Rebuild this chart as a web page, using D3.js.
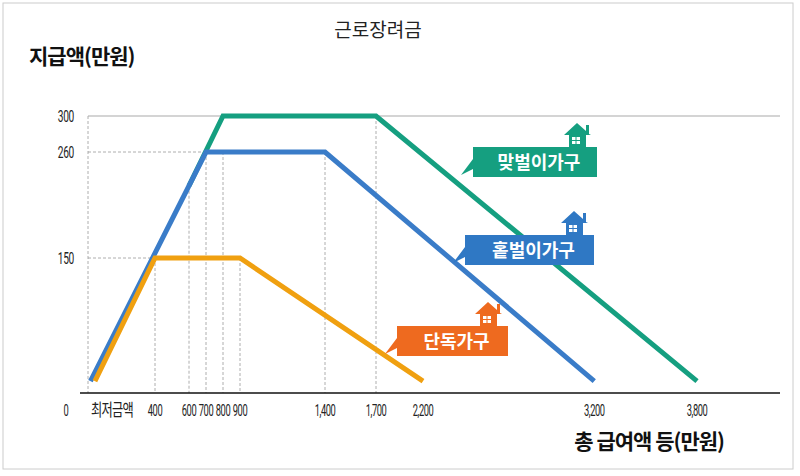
<!DOCTYPE html>
<html><head><meta charset="utf-8">
<script src="https://cdn.jsdelivr.net/npm/d3@7"></script>
<style>body{margin:0;background:#fff}text{font-family:"Noto Sans CJK KR",sans-serif}</style>
</head><body><div class="svg-spot"></div>
<script>
// tick values on x (the axis is not evenly spaced past 1,700)
var xTicks = [0, 400, 600, 700, 800, 900, 1400, 1700, 2200, 3200, 3800];
var xTickLabels = ["0", "400", "600", "700", "800", "900", "1,400", "1,700", "2,200", "3,200", "3,800"];
var yTicks = [150, 260, 300];

// series: [급여액, 지급액]; the first points sit at the 최저금액 position
var single = [[130, 20], [400, 150], [900, 150], [2200, 20]];
var oneEarner = [[110, 20], [700, 260], [1400, 260], [3200, 20]];
var twoEarner = [[600, 225], [800, 300], [1700, 300], [3800, 20]];

var svg = d3.select(".svg-spot").append("svg").attr("width", 800).attr("height", 476);
svg.append("rect").attr("x", 3).attr("y", 3).attr("width", 790).attr("height", 466)
   .attr("fill", "#fff").attr("stroke", "#ccc");

var x = d3.scaleLinear()
          .domain([0, 400, 1700, 2200, 3800])
          .range([66, 155, 376, 423, 697]);
var y = d3.scaleLinear().domain([0, 150, 260, 300]).range([400, 258, 152, 116]);
var axisY = 393;

// grid
var grid = svg.append("g").attr("stroke", "#999").attr("stroke-dasharray", "3,2").attr("stroke-width", 0.8);
grid.append("line").attr("x1", 88).attr("x2", 88).attr("y1", y(300)).attr("y2", axisY);
grid.append("line").attr("x1", 88).attr("x2", x(1400)).attr("y1", y(260)).attr("y2", y(260));
grid.append("line").attr("x1", 88).attr("x2", x(400)).attr("y1", y(150)).attr("y2", y(150));
[[400, 150], [600, 225], [700, 260], [800, 260], [900, 150], [1400, 260], [1700, 300]].forEach(function(d){
    grid.append("line").attr("x1", x(d[0])).attr("x2", x(d[0])).attr("y1", y(d[1])).attr("y2", axisY);
});
svg.append("line").attr("x1", 88).attr("x2", 780).attr("y1", y(300)).attr("y2", y(300))
   .attr("stroke", "#aaa").attr("stroke-width", 1.2);

// x axis
svg.append("line").attr("x1", 80).attr("x2", 780).attr("y1", axisY).attr("y2", axisY)
   .attr("stroke", "#111").attr("stroke-width", 1.5);
svg.selectAll(".xt").data(xTicks).enter().append("text")
   .attr("transform", d => `translate(${x(d)},416) scale(0.55,1)`).attr("text-anchor", "middle")
   .attr("font-size", 17).attr("fill", "#222").attr("letter-spacing", -0.8)
   .style("font-family", "'Roboto',sans-serif")
   .text((d, i) => xTickLabels[i]);
svg.append("text").attr("transform", "translate(112,416) scale(0.72,1)").attr("text-anchor", "middle")
   .attr("font-size", 17).attr("fill", "#222").attr("letter-spacing", -1).text("최저금액");
svg.selectAll(".yt").data(yTicks).enter().append("text")
   .attr("transform", d => `translate(74,${y(d) + 6}) scale(0.6,1)`).attr("text-anchor", "end")
   .attr("font-size", 17).attr("fill", "#222").attr("letter-spacing", -0.5)
   .style("font-family", "'Roboto',sans-serif").text(d => d);

// titles
svg.append("text").attr("x", 378).attr("y", 37).attr("text-anchor", "middle")
   .attr("font-size", 19).attr("fill", "#222").text("근로장려금");
svg.append("text").attr("x", 29).attr("y", 64).attr("font-size", 21).attr("font-weight", "bold")
   .attr("fill", "#111").attr("letter-spacing", -1).text("지급액(만원)");
svg.append("text").attr("x", 724).attr("y", 449).attr("text-anchor", "end").attr("font-size", 21)
   .attr("font-weight", "bold").attr("fill", "#111").attr("letter-spacing", -1).text("총 급여액 등(만원)");

// lines
var line = d3.line().x(d => x(d[0])).y(d => y(d[1]));
[[twoEarner, "#159f80"], [oneEarner, "#3a7cc8"], [single, "#f0a010"]].forEach(function(s){
    svg.append("path").attr("d", line(s[0])).attr("fill", "none")
       .attr("stroke", s[1]).attr("stroke-width", 5);
});

// labels with house icons
var labels = [
    {t: "맞벌이가구", x: 473, y: 147, w: 124, c: "#159f80"},
    {t: "홑벌이가구", x: 465, y: 235, w: 129, c: "#2f78c4"},
    {t: "단독가구", x: 397, y: 326, w: 111, c: "#ee6a1f"}
];
labels.forEach(function(l){
    var g = svg.append("g").attr("transform", `translate(${l.x},${l.y})`);
    g.append("path").attr("d", `M0,0H${l.w}V30H0V22L-12,28L0,12Z`).attr("fill", l.c);
    var hx = l.w - 28;
    g.append("path").attr("d", `M${hx},0V-12H${hx-5}L${hx+8},-24L${hx+17},-16V-22H${hx+20}V-13L${hx+22},-12H${hx+17}V0Z`)
     .attr("fill", l.c);
    g.append("rect").attr("x", hx + 3).attr("y", -10).attr("width", 8).attr("height", 7).attr("fill", "#fff");
    g.append("path").attr("d", `M${hx+7},-10V-3M${hx+3},-6.5H${hx+11}`).attr("stroke", l.c).attr("stroke-width", 1);
    g.append("text").attr("x", (l.w) / 2 + 4).attr("y", 22).attr("text-anchor", "middle")
     .attr("font-size", 18).attr("font-weight", "bold").attr("fill", "#fff").text(l.t);
});
</script></body></html>
